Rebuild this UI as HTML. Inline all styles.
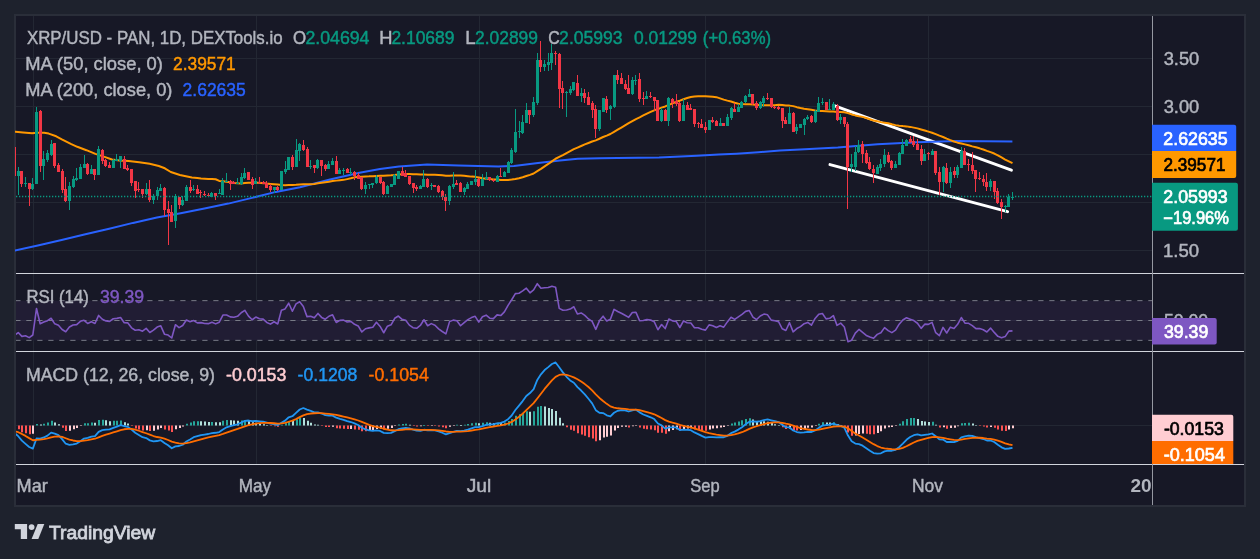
<!DOCTYPE html>
<html><head><meta charset="utf-8"><title>XRP/USD chart</title>
<style>
html,body{margin:0;padding:0;background:#1e222d;width:1260px;height:559px;overflow:hidden}
svg{position:absolute;left:0;top:0;display:block}
text{font-family:"Liberation Sans",sans-serif;font-size:16px}
.lg{fill:#b2b5be}
.ax{fill:#b2b5be}
.lb{font-weight:bold}
</style></head><body>
<svg width="1260" height="559" viewBox="0 0 1260 559">
<defs>
<clipPath id="cmain"><rect x="15" y="16" width="1137" height="257"/></clipPath>
<clipPath id="crsi"><rect x="16" y="274" width="1136" height="77"/></clipPath>
<clipPath id="cmacd"><rect x="16" y="352" width="1136" height="112"/></clipPath>
</defs>
<rect x="0" y="0" width="1260" height="559" fill="#1e222d"/>
<rect x="14" y="14" width="1232" height="493" fill="#2a2e39"/>
<rect x="16" y="16" width="1228" height="489" fill="#171826"/>
<!-- grid -->
<g stroke="#232733" stroke-width="1" fill="none">
<path d="M33.5 16V464M256.5 16V464M479.5 16V464M705.5 16V464M928.5 16V464"/>
<path d="M16 58.5H1152M16 106.5H1152M16 154.5H1152M16 202.5H1152M16 250.5H1152M16 425.5H1152"/>
</g>
<g clip-path="url(#cmain)">
<path d="M833.4 105.4L1011.4 170.2M830 164.6L1007.6 211.6" stroke="#ffffff" stroke-width="3" stroke-linecap="round" fill="none"/>
<path d="M14 250.8 L37.8 245.5 L61.6 240 L85.4 234.3 L109.2 228.8 L133 222.9 L156.9 217.6 L180.7 213.3 L204.5 208.6 L228.3 203.6 L252 197.9 L275.9 191.9 L300 187.2 L330 179.5 L359.5 172.8 L380 169 L399 166.4 L427 164.6 L458.7 165.6 L498.4 166.4 L514 166 L538 162.9 L560 160.6 L577.8 158.8 L599.7 158.2 L617.5 157.9 L659 157.4 L696.8 155.7 L718.7 154.6 L736.5 153.7 L758.4 152.2 L780 150.6 L800 149.4 L837.8 147.5 L877.5 144.3 L917 142.3 L956.8 141.1 L1012.4 141.6" stroke="#2962ff" stroke-width="2" fill="none" stroke-linejoin="round"/>
<path d="M14 131.7 L15.5 131.8 L23 132.4 L32.1 133.3 L36.6 132.8 L44.2 132.8 L48.7 133.6 L56.2 136.3 L62.3 139.6 L71.3 144.1 L77.3 146.8 L86.4 150.2 L95.4 153.9 L104.5 156.9 L112 159.5 L119.5 160.4 L128.6 161 L139.2 162.2 L149.7 163.7 L158.8 166 L164.8 168.3 L170.8 172 L179.9 175 L191.9 177.6 L197.34 178.04 L200.99 178.48 L204.65 178.71 L208.3 178.96 L211.96 179.04 L215.62 179.28 L219.27 180.9 L222.93 181.19 L226.58 181.64 L230.24 182.24 L233.89 183.04 L237.55 183.37 L241.2 183.47 L244.86 183.12 L248.51 182.7 L252.17 182.67 L255.82 182.71 L259.48 182.81 L263.14 183.13 L266.79 183.61 L270.45 183.92 L274.1 184.28 L277.76 184.58 L281.41 185.01 L285.07 185.17 L288.72 184.99 L292.38 184.97 L296.03 184.78 L299.69 184.49 L303.34 184.37 L307 184.31 L310.66 184.22 L314.31 183.91 L317.97 183.29 L321.62 182.82 L325.28 182.33 L328.93 181.84 L332.59 181.06 L336.24 180.62 L339.9 180.22 L343.55 179.86 L347.21 179.12 L350.86 178.3 L354.52 177.37 L358.18 177.02 L361.83 176.71 L365.49 176.41 L369.14 176.35 L372.8 176.19 L376.45 175.97 L380.11 175.76 L383.76 175.77 L387.42 175.59 L391.07 175.36 L394.73 174.99 L398.38 174.49 L402.04 174.14 L405.7 174.06 L409.35 174.12 L413.01 174.22 L416.66 174.32 L420.32 174.38 L423.97 174.42 L427.63 174.71 L431.28 174.8 L434.94 174.84 L438.59 175.07 L442.25 175.34 L445.91 175.68 L449.56 175.65 L453.22 175.53 L456.87 175.48 L460.53 175.52 L464.18 175.85 L467.84 176.15 L471.49 176.62 L475.15 176.87 L478.8 177.6 L482.46 178.3 L486.11 178.83 L489.77 179.1 L493.43 179.41 L497.08 179.57 L500.74 179.91 L504.39 180.03 L508.05 179.88 L511.7 179.61 L515.36 179.03 L519.01 178.17 L522.67 177.21 L526.32 176.02 L529.98 174.87 L533.63 173.47 L537.29 171.15 L540.95 168.91 L544.6 166.41 L548.26 163.95 L551.91 161.33 L555.57 158.75 L559.22 156.97 L562.88 155.16 L566.53 153.11 L570.19 151.17 L573.84 149.14 L577.5 147.56 L581.16 146 L584.81 144.44 L588.47 143 L592.12 141.51 L595.78 140.33 L599.43 138.76 L603.09 137.01 L606.74 135.64 L610.4 134.01 L614.05 131.82 L617.71 129.68 L621.36 127.52 L625.02 125.37 L628.68 123.23 L632.33 121.12 L635.99 119.04 L639.64 117.33 L643.3 115.47 L646.95 113.64 L650.61 111.91 L654.26 110.31 L657.92 109.14 L661.57 107.61 L665.23 106.45 L668.88 104.87 L672.54 103.32 L676.2 101.79 L679.85 100.68 L683.51 99.24 L687.16 97.99 L690.82 96.96 L694.47 96.43 L698.13 96.26 L701.78 96.19 L705.44 96.34 L709.09 96.54 L712.75 96.68 L716.4 97.15 L720.06 98.41 L723.72 99.59 L727.37 100.65 L731.03 101.56 L734.68 102.74 L738.34 103.8 L741.99 104.06 L745.65 104.13 L749.3 104.17 L752.96 104.47 L756.61 104.98 L760.27 105.1 L763.93 105.2 L767.58 105.22 L771.24 105.26 L774.89 105.23 L778.55 104.83 L782.2 105.03 L785.86 105.55 L789.51 105.62 L793.17 106.13 L796.82 107.16 L800.48 108.03 L804.13 108.72 L807.79 109.28 L811.45 109.84 L815.1 110.46 L818.76 110.93 L822.41 110.97 L826.07 111.19 L829.72 111.45 L833.38 111.59 L837.03 111.97 L840.69 111.9 L844.34 112.18 L848 113.1 L851.65 114.43 L855.31 115.4 L858.97 116.21 L862.62 116.86 L866.28 118.03 L869.93 119.21 L873.59 120.47 L877.24 121.33 L880.9 122.13 L884.55 122.68 L888.21 123.33 L891.86 124.29 L895.52 125.13 L899.17 125.67 L902.83 126.1 L906.49 126.38 L910.14 126.89 L913.8 127.63 L917.45 128.39 L921.11 129.47 L924.76 130.5 L928.42 131.67 L932.07 132.8 L935.73 134.19 L939.38 135.67 L943.04 136.99 L946.7 138.69 L950.35 140.14 L954.01 141.5 L957.66 142.67 L961.32 143.51 L964.97 144.38 L968.63 145.2 L972.28 146.35 L975.94 147.29 L979.59 148.33 L983.25 149.49 L986.9 150.86 L990.56 152.14 L994.22 153.53 L997.87 155.37 L1001.53 157.46 L1005.18 159.54 L1008.84 161.29 L1012.49 163.05" stroke="#ff9800" stroke-width="2" fill="none" stroke-linejoin="round"/>
<path d="M18.5 167V195M25.5 177V187M32.5 178V190M36.5 107V184M43.5 151V180M47.5 150V162M51.5 140V156M69.5 182V210M73.5 176V188M76.5 168V181M80.5 164V179M84.5 155V168M91.5 165V174M98.5 146V175M113.5 159V168M116.5 154V161M120.5 156V168M146.5 183V195M153.5 194V204M157.5 187V200M160.5 184V191M175.5 194V228M182.5 196V206M186.5 185V201M193.5 185V191M211.5 192V197M219.5 189V194M222.5 178V195M226.5 173V182M237.5 178V184M241.5 173V185M244.5 168V179M255.5 178V184M274.5 187V193M281.5 171V190M285.5 161V174M288.5 157V170M296.5 139V167M299.5 143V161M310.5 160V169M317.5 159V169M328.5 161V169M332.5 158V165M339.5 168V174M343.5 168V175M350.5 168V175M365.5 182V194M369.5 184V189M372.5 183V188M376.5 175V184M387.5 185V194M391.5 184V187M394.5 174V185M398.5 171V179M420.5 185V189M423.5 170V187M431.5 183V190M449.5 185V205M453.5 172V189M464.5 187V195M467.5 182V189M471.5 181V185M475.5 170V185M482.5 174V186M486.5 172V180M497.5 175V182M504.5 171V177M508.5 161V173M511.5 148V164M515.5 109V153M519.5 121V138M522.5 115V134M526.5 103V123M533.5 97V117M537.5 53V105M544.5 60V71M548.5 53V71M551.5 44V70M566.5 91V117M570.5 86V95M573.5 82V91M581.5 88V102M599.5 110V131M603.5 98V112M610.5 105V120M614.5 75V108M632.5 77V95M635.5 75V85M646.5 91V99M661.5 108V122M668.5 97V126M683.5 99V121M709.5 120V130M720.5 118V126M727.5 114V126M731.5 107V120M738.5 104V112M741.5 101V108M745.5 95V103M749.5 89V97M760.5 101V109M763.5 96V107M789.5 107V124M796.5 124V134M800.5 124V128M804.5 118V135M807.5 115V120M815.5 110V123M818.5 97V112M822.5 98V105M829.5 99V110M833.5 102V110M840.5 114V124M851.5 154V172M855.5 146V171M858.5 140V153M877.5 165V174M880.5 159V171M884.5 149V167M895.5 161V168M899.5 152V165M902.5 139V154M906.5 139V146M924.5 149V161M932.5 149V155M943.5 166V192M950.5 167V188M957.5 165V178M961.5 147V168M990.5 179V191M1005.5 205V212M1008.5 194V207M1012.5 192V200" stroke="#089981" stroke-width="1" fill="none"/><path d="M14.5 145V181M21.5 171V187M29.5 183V206M40.5 110V172M54.5 143V168M58.5 163V172M62.5 169V193M65.5 177V202M87.5 163V175M94.5 169V180M102.5 149V164M105.5 159V167M109.5 162V168M124.5 156V169M127.5 165V171M131.5 169V186M135.5 181V198M138.5 182V192M142.5 189V198M149.5 180V202M164.5 187V216M168.5 201V245M171.5 205V222M179.5 197V209M190.5 180V193M197.5 185V194M200.5 190V198M204.5 191V196M208.5 193V196M215.5 193V200M230.5 180V190M233.5 181V184M248.5 172V180M252.5 177V189M259.5 177V184M263.5 181V184M266.5 181V188M270.5 184V192M277.5 186V191M292.5 155V170M303.5 140V151M307.5 147V167M314.5 165V173M321.5 160V176M325.5 164V171M336.5 156V174M347.5 168V173M354.5 171V180M358.5 173V179M361.5 177V190M380.5 177V184M383.5 181V195M402.5 167V176M405.5 170V177M409.5 176V185M413.5 183V193M416.5 185V191M427.5 178V188M434.5 185V187M438.5 185V193M442.5 190V200M445.5 194V211M456.5 180V185M460.5 182V192M478.5 178V187M489.5 177V181M493.5 179V182M500.5 168V177M529.5 110V124M540.5 41V72M555.5 51V65M559.5 53V108M562.5 81V109M577.5 75V96M584.5 89V103M588.5 92V105M592.5 101V118M595.5 105V138M606.5 96V113M617.5 70V84M621.5 73V84M625.5 80V90M628.5 75V94M639.5 73V102M643.5 92V105M650.5 92V98M654.5 97V111M657.5 100V121M665.5 109V121M672.5 98V108M676.5 94V106M679.5 102V122M687.5 102V110M690.5 104V110M694.5 109V127M698.5 122V128M701.5 119V128M705.5 122V133M712.5 117V123M716.5 120V126M723.5 123V126M734.5 103V112M752.5 94V105M756.5 101V110M767.5 93V100M771.5 98V108M774.5 106V109M778.5 106V110M782.5 108V128M785.5 117V124M793.5 112V132M811.5 115V123M826.5 102V110M837.5 104V121M844.5 117V127M847.5 122V209M862.5 141V163M866.5 150V164M869.5 157V170M873.5 165V183M888.5 152V163M891.5 160V170M910.5 136V143M913.5 136V147M917.5 139V150M921.5 145V165M928.5 152V160M935.5 151V175M939.5 167V195M946.5 163V184M954.5 167V178M964.5 148V165M968.5 159V171M972.5 152V174M975.5 170V192M979.5 172V180M983.5 175V186M986.5 173V191M994.5 181V199M997.5 188V204M1001.5 199V219" stroke="#f23645" stroke-width="1" fill="none"/><path d="M17 171h3v5h-3zM24 183h3v1h-3zM31 184h3v5h-3zM35 112h3v72h-3zM42 159h3v7h-3zM46 153h3v7h-3zM50 144h3v11h-3zM68 186h3v15h-3zM72 179h3v8h-3zM75 178h3v2h-3zM79 167h3v12h-3zM83 164h3v4h-3zM90 169h3v5h-3zM97 149h3v26h-3zM112 160h3v8h-3zM115 159h3v2h-3zM119 156h3v5h-3zM145 189h3v5h-3zM152 196h3v4h-3zM156 190h3v6h-3zM159 188h3v3h-3zM174 196h3v25h-3zM181 200h3v5h-3zM185 187h3v14h-3zM192 189h3v1h-3zM210 193h3v4h-3zM218 193h3v1h-3zM221 181h3v14h-3zM225 181h3v1h-3zM236 183h3v1h-3zM240 177h3v7h-3zM243 173h3v5h-3zM254 181h3v3h-3zM273 187h3v3h-3zM280 171h3v19h-3zM284 169h3v3h-3zM287 157h3v13h-3zM295 150h3v17h-3zM298 144h3v7h-3zM309 166h3v1h-3zM316 160h3v8h-3zM327 164h3v5h-3zM331 161h3v4h-3zM338 170h3v4h-3zM342 170h3v1h-3zM349 172h3v1h-3zM364 185h3v4h-3zM368 184h3v1h-3zM371 183h3v2h-3zM375 177h3v6h-3zM386 186h3v8h-3zM390 184h3v3h-3zM393 175h3v10h-3zM397 171h3v8h-3zM419 186h3v3h-3zM422 179h3v8h-3zM430 185h3v1h-3zM448 186h3v15h-3zM452 184h3v3h-3zM463 188h3v4h-3zM466 184h3v5h-3zM470 181h3v4h-3zM474 179h3v3h-3zM481 179h3v7h-3zM485 177h3v2h-3zM496 176h3v6h-3zM503 172h3v5h-3zM507 162h3v11h-3zM510 150h3v13h-3zM514 132h3v20h-3zM518 131h3v1h-3zM521 122h3v11h-3zM525 110h3v13h-3zM532 102h3v13h-3zM536 60h3v43h-3zM543 64h3v3h-3zM547 62h3v3h-3zM550 53h3v10h-3zM565 92h3v1h-3zM569 89h3v4h-3zM572 82h3v8h-3zM580 93h3v3h-3zM598 110h3v19h-3zM602 98h3v14h-3zM609 106h3v3h-3zM613 75h3v32h-3zM631 80h3v14h-3zM634 80h3v1h-3zM645 96h3v3h-3zM660 110h3v11h-3zM667 98h3v23h-3zM682 105h3v16h-3zM708 120h3v10h-3zM719 123h3v3h-3zM726 117h3v9h-3zM730 108h3v10h-3zM737 107h3v5h-3zM740 102h3v6h-3zM744 96h3v6h-3zM748 94h3v3h-3zM759 102h3v6h-3zM762 98h3v5h-3zM788 113h3v11h-3zM795 127h3v4h-3zM799 124h3v4h-3zM803 119h3v6h-3zM806 117h3v2h-3zM814 111h3v11h-3zM817 103h3v9h-3zM821 102h3v1h-3zM828 109h3v1h-3zM832 104h3v6h-3zM839 117h3v3h-3zM850 164h3v3h-3zM854 152h3v15h-3zM857 145h3v7h-3zM876 167h3v7h-3zM879 164h3v4h-3zM883 155h3v9h-3zM894 164h3v4h-3zM898 153h3v12h-3zM901 145h3v9h-3zM905 140h3v6h-3zM923 154h3v7h-3zM931 151h3v4h-3zM942 167h3v15h-3zM949 172h3v11h-3zM956 167h3v8h-3zM960 151h3v17h-3zM989 181h3v6h-3zM1004 206h3v1h-3zM1007 197h3v10h-3zM1011 197h3v1h-3z" fill="#089981"/><path d="M13 147h3v29h-3zM20 171h3v13h-3zM28 183h3v6h-3zM39 111h3v55h-3zM53 143h3v23h-3zM57 165h3v7h-3zM61 171h3v19h-3zM64 189h3v12h-3zM86 164h3v10h-3zM93 169h3v6h-3zM101 150h3v11h-3zM104 160h3v6h-3zM108 165h3v3h-3zM123 159h3v10h-3zM126 168h3v2h-3zM130 169h3v14h-3zM134 181h3v10h-3zM137 189h3v1h-3zM141 189h3v5h-3zM148 189h3v11h-3zM163 188h3v22h-3zM167 209h3v4h-3zM170 212h3v10h-3zM178 197h3v8h-3zM189 187h3v4h-3zM196 189h3v5h-3zM199 192h3v1h-3zM203 194h3v1h-3zM207 195h3v1h-3zM214 193h3v3h-3zM229 181h3v3h-3zM232 182h3v2h-3zM247 172h3v8h-3zM251 179h3v6h-3zM258 182h3v1h-3zM262 182h3v2h-3zM265 183h3v5h-3zM269 186h3v4h-3zM276 187h3v3h-3zM291 157h3v10h-3zM302 145h3v5h-3zM306 149h3v18h-3zM313 165h3v3h-3zM320 160h3v6h-3zM324 165h3v4h-3zM335 161h3v13h-3zM346 169h3v4h-3zM353 172h3v4h-3zM357 175h3v4h-3zM360 177h3v12h-3zM379 177h3v6h-3zM382 182h3v12h-3zM401 171h3v5h-3zM404 173h3v4h-3zM408 176h3v8h-3zM412 183h3v5h-3zM415 187h3v2h-3zM426 179h3v8h-3zM433 185h3v2h-3zM437 186h3v6h-3zM441 191h3v6h-3zM444 197h3v4h-3zM455 183h3v2h-3zM459 183h3v9h-3zM477 179h3v7h-3zM488 177h3v3h-3zM492 180h3v1h-3zM499 176h3v1h-3zM528 110h3v5h-3zM539 60h3v7h-3zM554 53h3v1h-3zM558 54h3v35h-3zM561 88h3v5h-3zM576 83h3v13h-3zM583 93h3v5h-3zM587 97h3v8h-3zM591 103h3v7h-3zM594 109h3v20h-3zM605 99h3v11h-3zM616 75h3v5h-3zM620 78h3v6h-3zM624 84h3v5h-3zM627 88h3v6h-3zM638 79h3v20h-3zM642 98h3v1h-3zM649 96h3v1h-3zM653 97h3v4h-3zM656 100h3v21h-3zM664 110h3v11h-3zM671 99h3v4h-3zM675 101h3v3h-3zM678 103h3v18h-3zM686 105h3v5h-3zM689 108h3v2h-3zM693 109h3v15h-3zM697 123h3v1h-3zM700 124h3v4h-3zM704 127h3v3h-3zM711 120h3v2h-3zM715 121h3v5h-3zM722 123h3v3h-3zM733 109h3v3h-3zM751 94h3v10h-3zM755 103h3v5h-3zM766 98h3v1h-3zM770 98h3v9h-3zM773 107h3v1h-3zM777 107h3v2h-3zM781 108h3v13h-3zM784 120h3v4h-3zM792 113h3v19h-3zM810 116h3v6h-3zM825 102h3v8h-3zM836 106h3v14h-3zM843 117h3v7h-3zM846 124h3v43h-3zM861 144h3v10h-3zM865 153h3v10h-3zM868 162h3v7h-3zM872 169h3v4h-3zM887 155h3v7h-3zM890 161h3v7h-3zM909 139h3v3h-3zM912 141h3v4h-3zM916 144h3v6h-3zM920 149h3v12h-3zM927 153h3v1h-3zM934 151h3v22h-3zM938 172h3v10h-3zM945 168h3v15h-3zM953 171h3v4h-3zM963 151h3v14h-3zM967 164h3v1h-3zM971 165h3v6h-3zM974 170h3v9h-3zM978 178h3v1h-3zM982 179h3v3h-3zM985 182h3v5h-3zM993 181h3v11h-3zM996 191h3v12h-3zM1000 202h3v5h-3z" fill="#f23645"/>
<path d="M16 196.5H1152" stroke="#089981" stroke-width="1.3" stroke-dasharray="1.3 1.7" fill="none"/>
</g>
<g clip-path="url(#crsi)"><rect x="16" y="300.65" width="1136" height="39.7" fill="#211d34"/><path d="M16 320.5H1152" stroke="#2b2740" stroke-width="1"/><path d="M15.3 300.65H1152" stroke="#787b86" stroke-width="1" stroke-dasharray="5.2 5.8" fill="none"/><path d="M15.3 320.5H1152" stroke="#787b86" stroke-width="1" stroke-dasharray="5.2 5.8" fill="none"/><path d="M15.3 340.35H1152" stroke="#787b86" stroke-width="1" stroke-dasharray="5.2 5.8" fill="none"/><path d="M14.57 335.34 L18.22 332.52 L21.88 336.38 L25.53 335.82 L29.19 337.62 L32.84 334.98 L36.5 308.52 L40.16 323.8 L43.81 321.96 L47.47 320.63 L51.12 318.24 L54.78 323.83 L58.43 325.31 L62.09 329.46 L65.74 331.71 L69.4 327.02 L73.05 324.94 L76.71 324.67 L80.37 321.29 L84.02 320.3 L87.68 323.41 L91.33 321.79 L94.99 323.51 L98.64 315.44 L102.3 319.25 L105.95 320.91 L109.61 321.45 L113.26 318.74 L116.92 318.38 L120.57 317.47 L124.23 322.68 L127.89 322.92 L131.54 327.83 L135.2 330.23 L138.85 329.72 L142.51 331.17 L146.16 328.38 L149.82 332.51 L153.47 330.12 L157.13 327.04 L160.78 325.81 L164.44 334.19 L168.09 335.07 L171.75 338 L175.41 324.72 L179.06 327.68 L182.72 325.54 L186.37 320.02 L190.03 321.77 L193.68 320.6 L197.34 322.84 L200.99 322.64 L204.65 323.47 L208.3 323.64 L211.96 322.19 L215.62 323.86 L219.27 322.16 L222.93 315.06 L226.58 315.06 L230.24 316.89 L233.89 317.27 L237.55 316.34 L241.2 312.73 L244.86 310.31 L248.51 316.16 L252.17 319.74 L255.82 317.05 L259.48 318.72 L263.14 319.15 L266.79 322.44 L270.45 324.11 L274.1 321.71 L277.76 323.95 L281.41 310.23 L285.07 308.92 L288.72 303.21 L292.38 311.24 L296.03 303.83 L299.69 301.69 L303.34 306.41 L307 316.64 L310.66 316.2 L314.31 317.81 L317.97 313.44 L321.62 317.41 L325.28 319.22 L328.93 316.25 L332.59 314.8 L336.24 322.46 L339.9 320.35 L343.55 320.14 L347.21 322.06 L350.86 321.45 L354.52 324.29 L358.18 325.92 L361.83 331.97 L365.49 328.74 L369.14 327.85 L372.8 327.23 L376.45 322.26 L380.11 326.41 L383.76 332.76 L387.42 326.14 L391.07 324.78 L394.73 318.3 L398.38 316.04 L402.04 319.29 L405.7 320.2 L409.35 325.13 L413.01 327.72 L416.66 328.28 L420.32 325.47 L423.97 319.73 L427.63 325.75 L431.28 323.63 L434.94 325.25 L438.59 328.83 L442.25 331.48 L445.91 333.88 L449.56 321.62 L453.22 320.13 L456.87 320.78 L460.53 325.76 L464.18 322.53 L467.84 319.58 L471.49 317.62 L475.15 316.31 L478.8 322.12 L482.46 316.78 L486.11 315.17 L489.77 318.19 L493.43 318.65 L497.08 314.89 L500.74 315.57 L504.39 311.88 L508.05 305.39 L511.7 299.73 L515.36 293.61 L519.01 293.2 L522.67 290.88 L526.32 288.14 L529.98 292.83 L533.63 289.83 L537.29 283.67 L540.95 288.18 L544.6 287.79 L548.26 287.53 L551.91 286.18 L555.57 287.15 L559.22 308.41 L562.88 310.29 L566.53 310 L570.19 309.08 L573.84 306.79 L577.5 314.04 L581.16 312.95 L584.81 315.37 L588.47 318.96 L592.12 321.43 L595.78 329.33 L599.43 320.85 L603.09 316.21 L606.74 320.91 L610.4 319.3 L614.05 309.35 L617.71 311.46 L621.36 313.29 L625.02 315.28 L628.68 317.34 L632.33 312.52 L635.99 312.34 L639.64 320.79 L643.3 320.57 L646.95 319.53 L650.61 320.1 L654.26 321.76 L657.92 329.73 L661.57 324.54 L665.23 328.55 L668.88 318.97 L672.54 320.9 L676.2 321.46 L679.85 327.5 L683.51 320.95 L687.16 322.79 L690.82 323.06 L694.47 327.8 L698.13 327.8 L701.78 329.31 L705.44 330.11 L709.09 324.89 L712.75 325.66 L716.4 327.45 L720.06 325.79 L723.72 327.15 L727.37 321.89 L731.03 317.23 L734.68 319.42 L738.34 316.81 L741.99 314.38 L745.65 311.38 L749.3 310.54 L752.96 317.06 L756.61 319.55 L760.27 315.98 L763.93 314.09 L767.58 314.84 L771.24 320.13 L774.89 320.82 L778.55 321.66 L782.2 328.75 L785.86 330.47 L789.51 322.7 L793.17 331.84 L796.82 328.56 L800.48 326.59 L804.13 323.74 L807.79 322.38 L811.45 325.19 L815.1 318.49 L818.76 314.18 L822.41 313.44 L826.07 318.85 L829.72 318.29 L833.38 315.63 L837.03 325.37 L840.69 323.13 L844.34 326.95 L848 341.8 L851.65 340.2 L855.31 333.12 L858.97 329.44 L862.62 332.44 L866.28 335.46 L869.93 337.02 L873.59 338.31 L877.24 334.38 L880.9 332.7 L884.55 327.65 L888.21 330.63 L891.86 332.62 L895.52 330.16 L899.17 324.2 L902.83 320.03 L906.49 317.76 L910.14 319.14 L913.8 320.57 L917.45 323.23 L921.11 328.38 L924.76 324.17 L928.42 324.36 L932.07 322.4 L935.73 332.73 L939.38 335.72 L943.04 327.43 L946.7 332.99 L950.35 327.18 L954.01 328.49 L957.66 324.28 L961.32 317.54 L964.97 323.15 L968.63 323.32 L972.28 325.59 L975.94 328.58 L979.59 328.58 L983.25 329.72 L986.9 331.98 L990.56 328.1 L994.22 332.4 L997.87 336.36 L1001.53 337.74 L1005.18 336.58 L1008.84 331.17 L1012.49 330.85" stroke="#7e57c2" stroke-width="1.6" fill="none" stroke-linejoin="round"/></g>
<g clip-path="url(#cmacd)"><path d="M36 423.98h2v1.42h-2zM43 423.67h2v1.73h-2zM47 422.55h2v2.85h-2zM51 420.74h2v4.66h-2zM84 423.34h2v2.06h-2zM87 423.27h2v2.13h-2zM91 422.6h2v2.8h-2zM98 419.91h2v5.49h-2zM102 419.66h2v5.74h-2zM113 420.84h2v4.56h-2zM116 420.7h2v4.7h-2zM120 420.49h2v4.91h-2zM186 423.71h2v1.69h-2zM190 422.4h2v3h-2zM193 421.24h2v4.16h-2zM197 421.24h2v4.16h-2zM211 421.89h2v3.51h-2zM222 420.87h2v4.53h-2zM226 420.11h2v5.29h-2zM241 420.4h2v5h-2zM244 419.92h2v5.48h-2zM281 424.71h2v0.69h-2zM285 423.17h2v2.23h-2zM288 420.92h2v4.48h-2zM296 419.21h2v6.19h-2zM299 417.75h2v7.65h-2zM398 424.42h2v0.98h-2zM402 423.91h2v1.49h-2zM405 423.79h2v1.61h-2zM423 425.37h2v0.6h-2zM456 424.65h2v0.75h-2zM464 424.73h2v0.67h-2zM467 424.03h2v1.37h-2zM471 423.28h2v2.12h-2zM475 422.65h2v2.75h-2zM482 422.82h2v2.58h-2zM486 422.36h2v3.04h-2zM497 422.79h2v2.61h-2zM504 422.43h2v2.97h-2zM508 421.07h2v4.33h-2zM511 419.01h2v6.39h-2zM515 415.87h2v9.53h-2zM519 414.28h2v11.12h-2zM522 412.89h2v12.51h-2zM526 411.27h2v14.13h-2zM533 411.36h2v14.04h-2zM537 406.84h2v18.56h-2zM540 406.04h2v19.36h-2zM731 423.45h2v1.95h-2zM734 422.6h2v2.8h-2zM738 421.52h2v3.88h-2zM741 420.37h2v5.03h-2zM745 419.08h2v6.32h-2zM749 418.33h2v7.07h-2zM818 423.63h2v1.77h-2zM822 422.19h2v3.21h-2zM833 422.3h2v3.1h-2zM899 423.72h2v1.68h-2zM902 421.16h2v4.24h-2zM906 418.98h2v6.42h-2zM910 418.08h2v7.32h-2zM913 418.06h2v7.34h-2zM932 421.84h2v3.56h-2zM961 423.16h2v2.24h-2zM964 422.94h2v2.46h-2zM968 422.86h2v2.54h-2z" fill="#26a69a"/><path d="M40 424.38h2v1.02h-2zM54 422.41h2v2.99h-2zM58 424.27h2v1.13h-2zM94 422.86h2v2.54h-2zM105 420.34h2v5.06h-2zM109 421.15h2v4.25h-2zM124 422.21h2v3.19h-2zM127 423.49h2v1.91h-2zM200 421.26h2v4.14h-2zM204 421.59h2v3.81h-2zM208 421.92h2v3.48h-2zM215 422.33h2v3.07h-2zM219 422.34h2v3.06h-2zM230 420.18h2v5.22h-2zM233 420.5h2v4.9h-2zM237 420.75h2v4.65h-2zM248 420.78h2v4.62h-2zM252 422.16h2v3.24h-2zM255 422.72h2v2.68h-2zM259 423.49h2v1.91h-2zM263 424.16h2v1.24h-2zM266 425.18h2v0.6h-2zM292 420.98h2v4.42h-2zM303 418.09h2v7.31h-2zM307 420.76h2v4.64h-2zM310 422.68h2v2.72h-2zM314 424.46h2v0.94h-2zM317 424.67h2v0.73h-2zM409 424.64h2v0.76h-2zM460 425.04h2v0.6h-2zM478 423.25h2v2.15h-2zM489 422.66h2v2.74h-2zM493 423.04h2v2.36h-2zM500 422.85h2v2.55h-2zM529 411.76h2v13.64h-2zM544 406.51h2v18.89h-2zM548 407.91h2v17.49h-2zM551 408.93h2v16.47h-2zM555 410.99h2v14.41h-2zM559 417.75h2v7.65h-2zM562 423.34h2v2.06h-2zM752 419.42h2v5.98h-2zM756 420.91h2v4.49h-2zM760 421.27h2v4.13h-2zM763 421.27h2v4.13h-2zM767 421.63h2v3.77h-2zM771 423.05h2v2.35h-2zM774 424.22h2v1.18h-2zM778 425.2h2v0.6h-2zM826 422.44h2v2.96h-2zM829 422.61h2v2.79h-2zM837 424.24h2v1.16h-2zM840 425.07h2v0.6h-2zM917 418.9h2v6.5h-2zM921 420.95h2v4.45h-2zM924 421.45h2v3.95h-2zM928 421.9h2v3.5h-2zM935 424.68h2v0.72h-2zM972 423.54h2v1.86h-2zM975 424.92h2v0.6h-2z" fill="#b2dfdb"/><path d="M14 425.4h2v1.62h-2zM18 425.4h2v3.96h-2zM21 425.4h2v6.74h-2zM25 425.4h2v7.93h-2zM29 425.4h2v8.9h-2zM62 425.4h2v2.26h-2zM65 425.4h2v5.48h-2zM131 425.4h2v0.62h-2zM135 425.4h2v3.03h-2zM138 425.4h2v4.21h-2zM142 425.4h2v5.19h-2zM149 425.4h2v5.69h-2zM164 425.4h2v4.21h-2zM168 425.4h2v5.22h-2zM171 425.4h2v6.63h-2zM270 425.4h2v0.72h-2zM274 425.4h2v0.96h-2zM277 425.4h2v1.41h-2zM321 425.4h2v0.6h-2zM325 425.4h2v1.5h-2zM328 425.4h2v1.59h-2zM336 425.4h2v2.75h-2zM339 425.4h2v3.14h-2zM343 425.4h2v3.27h-2zM347 425.4h2v3.64h-2zM354 425.4h2v4.04h-2zM358 425.4h2v4.44h-2zM361 425.4h2v5.79h-2zM365 425.4h2v5.88h-2zM383 425.4h2v4.14h-2zM413 425.4h2v0.6h-2zM416 425.4h2v1.01h-2zM427 425.4h2v0.6h-2zM434 425.4h2v0.6h-2zM438 425.4h2v1.06h-2zM442 425.4h2v1.92h-2zM445 425.4h2v2.83h-2zM566 425.4h2v1.9h-2zM570 425.4h2v4.41h-2zM573 425.4h2v5.37h-2zM577 425.4h2v7.8h-2zM581 425.4h2v8.99h-2zM584 425.4h2v10.23h-2zM588 425.4h2v11.74h-2zM592 425.4h2v13.05h-2zM595 425.4h2v15.88h-2zM628 425.4h2v2.04h-2zM639 425.4h2v2.14h-2zM643 425.4h2v3.42h-2zM646 425.4h2v3.86h-2zM650 425.4h2v4.22h-2zM654 425.4h2v4.77h-2zM657 425.4h2v7.4h-2zM661 425.4h2v7.42h-2zM665 425.4h2v8.46h-2zM679 425.4h2v5.11h-2zM694 425.4h2v4.04h-2zM698 425.4h2v4.55h-2zM701 425.4h2v5.11h-2zM705 425.4h2v5.41h-2zM782 425.4h2v1.89h-2zM785 425.4h2v3.52h-2zM793 425.4h2v4.86h-2zM796 425.4h2v5.11h-2zM844 425.4h2v1.08h-2zM847 425.4h2v7.21h-2zM851 425.4h2v10.31h-2zM866 425.4h2v8.47h-2zM869 425.4h2v8.82h-2zM873 425.4h2v8.97h-2zM939 425.4h2v2.03h-2zM946 425.4h2v3.32h-2zM979 425.4h2v0.6h-2zM983 425.4h2v1.01h-2zM986 425.4h2v2h-2zM994 425.4h2v2.47h-2zM997 425.4h2v4.17h-2zM1001 425.4h2v5.41h-2zM1005 425.4h2v5.54h-2z" fill="#ff5252"/><path d="M32 425.4h2v8.39h-2zM69 425.4h2v5.24h-2zM73 425.4h2v3.82h-2zM76 425.4h2v2.49h-2zM80 425.4h2v0.6h-2zM146 425.4h2v4.84h-2zM153 425.4h2v5.31h-2zM157 425.4h2v4h-2zM160 425.4h2v2.59h-2zM175 425.4h2v3.79h-2zM179 425.4h2v2.71h-2zM182 425.4h2v1.14h-2zM332 425.4h2v1.33h-2zM350 425.4h2v3.64h-2zM369 425.4h2v5.51h-2zM372 425.4h2v4.91h-2zM376 425.4h2v3.54h-2zM380 425.4h2v3.21h-2zM387 425.4h2v3.46h-2zM391 425.4h2v2.59h-2zM394 425.4h2v0.72h-2zM420 425.4h2v0.97h-2zM431 425.4h2v0.6h-2zM449 425.4h2v1.35h-2zM453 425.4h2v0.6h-2zM599 425.4h2v14.8h-2zM603 425.4h2v12.1h-2zM606 425.4h2v11.43h-2zM610 425.4h2v10.1h-2zM614 425.4h2v5.1h-2zM617 425.4h2v2.49h-2zM621 425.4h2v1.4h-2zM625 425.4h2v1.38h-2zM632 425.4h2v0.79h-2zM635 425.4h2v0.6h-2zM668 425.4h2v5.88h-2zM672 425.4h2v4.61h-2zM676 425.4h2v3.78h-2zM683 425.4h2v3.68h-2zM687 425.4h2v3.22h-2zM690 425.4h2v2.83h-2zM709 425.4h2v4.03h-2zM712 425.4h2v3.11h-2zM716 425.4h2v2.8h-2zM720 425.4h2v2.02h-2zM723 425.4h2v1.69h-2zM727 425.4h2v0.6h-2zM789 425.4h2v3.05h-2zM800 425.4h2v4.62h-2zM804 425.4h2v3.49h-2zM807 425.4h2v2.3h-2zM811 425.4h2v1.99h-2zM815 425.4h2v0.6h-2zM855 425.4h2v10.12h-2zM858 425.4h2v8.51h-2zM862 425.4h2v8.07h-2zM877 425.4h2v7.61h-2zM880 425.4h2v5.81h-2zM884 425.4h2v3.08h-2zM888 425.4h2v1.94h-2zM891 425.4h2v1.58h-2zM895 425.4h2v0.6h-2zM943 425.4h2v1.77h-2zM950 425.4h2v2.59h-2zM954 425.4h2v2.3h-2zM957 425.4h2v0.81h-2zM990 425.4h2v1.6h-2zM1008 425.4h2v4.14h-2zM1012 425.4h2v2.81h-2z" fill="#ffcdd2"/><path d="M14.57 432.87 L18.22 436.2 L21.88 440.67 L25.53 443.84 L29.19 447.04 L32.84 448.62 L36.5 438.46 L40.16 438.61 L43.81 437.46 L47.47 435.63 L51.12 432.65 L54.78 433.57 L58.43 435.16 L62.09 439.1 L65.74 443.7 L69.4 444.77 L73.05 444.31 L76.71 443.6 L80.37 441.15 L84.02 438.55 L87.68 437.93 L91.33 436.57 L94.99 436.2 L98.64 431.87 L102.3 430.18 L105.95 429.6 L109.61 429.35 L113.26 427.9 L116.92 426.58 L120.57 425.15 L124.23 426.07 L127.89 426.87 L131.54 429.55 L135.2 432.72 L138.85 434.96 L142.51 437.24 L146.16 438.1 L149.82 440.37 L153.47 441.32 L157.13 441.01 L160.78 440.24 L164.44 442.92 L168.09 445.24 L171.75 448.3 L175.41 446.41 L179.06 446.01 L182.72 444.73 L186.37 441.47 L190.03 439.41 L193.68 437.21 L197.34 436.17 L200.99 435.16 L204.65 434.54 L208.3 434 L211.96 433.09 L215.62 432.76 L219.27 432.01 L222.93 429.41 L226.58 427.32 L230.24 426.08 L233.89 425.18 L237.55 424.26 L241.2 422.67 L244.86 420.82 L248.51 420.52 L252.17 421.09 L255.82 420.98 L259.48 421.28 L263.14 421.64 L266.79 422.6 L270.45 423.72 L274.1 424.2 L277.76 425 L281.41 422.73 L285.07 420.63 L288.72 417.26 L292.38 416.21 L296.03 412.89 L299.69 409.52 L303.34 408.03 L307 409.55 L310.66 410.78 L314.31 412.33 L317.97 412.36 L321.62 413.53 L325.28 415.05 L328.93 415.54 L332.59 415.61 L336.24 417.72 L339.9 418.9 L343.55 419.85 L347.21 421.12 L350.86 422.03 L354.52 423.44 L358.18 424.96 L361.83 427.75 L365.49 429.31 L369.14 430.32 L372.8 430.94 L376.45 430.45 L380.11 430.93 L383.76 432.89 L387.42 433.08 L391.07 432.86 L394.73 431.16 L398.38 429.21 L402.04 428.34 L405.7 427.81 L409.35 428.47 L413.01 429.6 L416.66 430.57 L420.32 430.77 L423.97 429.76 L427.63 430.25 L431.28 430.16 L434.94 430.4 L438.59 431.36 L442.25 432.7 L445.91 434.31 L449.56 433.17 L453.22 431.86 L456.87 430.9 L460.53 431.19 L464.18 430.71 L467.84 429.67 L471.49 428.39 L475.15 427.08 L478.8 427.14 L482.46 426.06 L486.11 424.84 L489.77 424.45 L493.43 424.24 L497.08 423.34 L500.74 422.77 L504.39 421.6 L508.05 419.16 L511.7 415.5 L515.36 409.98 L519.01 405.61 L522.67 401.09 L526.32 395.94 L529.98 393.02 L533.63 389.11 L537.29 379.95 L540.95 374.31 L544.6 370.06 L548.26 367.09 L551.91 363.99 L555.57 362.45 L559.22 367.3 L562.88 372.37 L566.53 376.8 L570.19 380.42 L573.84 382.71 L577.5 387.1 L581.16 390.53 L584.81 394.33 L588.47 398.77 L592.12 403.35 L595.78 410.15 L599.43 412.77 L603.09 413.09 L606.74 415.28 L610.4 416.47 L614.05 412.75 L617.71 410.76 L621.36 410.03 L625.02 410.35 L628.68 411.51 L632.33 410.46 L635.99 409.72 L639.64 412.36 L643.3 414.5 L646.95 415.9 L650.61 417.31 L654.26 419.06 L657.92 423.54 L661.57 425.41 L665.23 428.57 L668.88 427.46 L672.54 427.34 L676.2 427.45 L679.85 430.06 L683.51 429.56 L687.16 429.89 L690.82 430.21 L694.47 432.43 L698.13 434.09 L701.78 435.92 L705.44 437.57 L709.09 437.2 L712.75 437.06 L716.4 437.44 L720.06 437.17 L723.72 437.26 L727.37 435.82 L731.03 433.18 L734.68 431.64 L738.34 429.59 L741.99 427.18 L745.65 424.31 L749.3 421.8 L752.96 421.39 L756.61 421.75 L760.27 421.08 L763.93 420.05 L767.58 419.47 L771.24 420.3 L774.89 421.18 L778.55 422.1 L782.2 424.67 L785.86 427.18 L789.51 427.47 L793.17 430.49 L796.82 432.03 L800.48 432.69 L804.13 432.43 L807.79 431.81 L811.45 432 L815.1 430.42 L818.76 427.88 L822.41 425.64 L826.07 425.15 L829.72 424.63 L833.38 423.53 L837.03 425.18 L840.69 425.93 L844.34 427.61 L848 435.54 L851.65 441.22 L855.31 443.56 L858.97 444.08 L862.62 445.65 L866.28 448.18 L869.93 450.72 L873.59 453.12 L877.24 453.66 L880.9 453.32 L884.55 451.35 L888.21 450.7 L891.86 450.74 L895.52 449.84 L899.17 447.2 L902.83 443.58 L906.49 439.79 L910.14 437.06 L913.8 435.21 L917.45 434.42 L921.11 435.36 L924.76 434.87 L928.42 434.44 L932.07 433.5 L935.73 436.16 L939.38 439.41 L943.04 439.59 L946.7 441.98 L950.35 441.89 L954.01 442.18 L957.66 440.9 L961.32 437.28 L964.97 436.45 L968.63 435.74 L972.28 435.95 L975.94 437.21 L979.59 438.06 L983.25 439.03 L986.9 440.52 L990.56 440.51 L994.22 442 L997.87 444.74 L1001.53 447.34 L1005.18 448.85 L1008.84 448.49 L1012.49 447.86" stroke="#2196f3" stroke-width="1.8" fill="none" stroke-linejoin="round"/><path d="M14.57 431.25 L18.22 432.24 L21.88 433.93 L25.53 435.91 L29.19 438.13 L32.84 440.23 L36.5 439.88 L40.16 439.62 L43.81 439.19 L47.47 438.48 L51.12 437.31 L54.78 436.57 L58.43 436.28 L62.09 436.85 L65.74 438.22 L69.4 439.53 L73.05 440.49 L76.71 441.11 L80.37 441.12 L84.02 440.6 L87.68 440.07 L91.33 439.37 L94.99 438.73 L98.64 437.36 L102.3 435.93 L105.95 434.66 L109.61 433.6 L113.26 432.46 L116.92 431.28 L120.57 430.06 L124.23 429.26 L127.89 428.78 L131.54 428.94 L135.2 429.69 L138.85 430.75 L142.51 432.05 L146.16 433.26 L149.82 434.68 L153.47 436.01 L157.13 437.01 L160.78 437.66 L164.44 438.71 L168.09 440.01 L171.75 441.67 L175.41 442.62 L179.06 443.3 L182.72 443.58 L186.37 443.16 L190.03 442.41 L193.68 441.37 L197.34 440.33 L200.99 439.3 L204.65 438.34 L208.3 437.47 L211.96 436.6 L215.62 435.83 L219.27 435.07 L222.93 433.93 L226.58 432.61 L230.24 431.31 L233.89 430.08 L237.55 428.92 L241.2 427.67 L244.86 426.3 L248.51 425.14 L252.17 424.33 L255.82 423.66 L259.48 423.19 L263.14 422.88 L266.79 422.82 L270.45 423 L274.1 423.24 L277.76 423.59 L281.41 423.42 L285.07 422.86 L288.72 421.74 L292.38 420.64 L296.03 419.09 L299.69 417.17 L303.34 415.35 L307 414.19 L310.66 413.51 L314.31 413.27 L317.97 413.09 L321.62 413.18 L325.28 413.55 L328.93 413.95 L332.59 414.28 L336.24 414.97 L339.9 415.75 L343.55 416.57 L347.21 417.48 L350.86 418.39 L354.52 419.4 L358.18 420.51 L361.83 421.96 L365.49 423.43 L369.14 424.81 L372.8 426.03 L376.45 426.92 L380.11 427.72 L383.76 428.75 L387.42 429.62 L391.07 430.27 L394.73 430.44 L398.38 430.2 L402.04 429.83 L405.7 429.42 L409.35 429.23 L413.01 429.31 L416.66 429.56 L420.32 429.8 L423.97 429.79 L427.63 429.88 L431.28 429.94 L434.94 430.03 L438.59 430.3 L442.25 430.78 L445.91 431.48 L449.56 431.82 L453.22 431.83 L456.87 431.64 L460.53 431.55 L464.18 431.38 L467.84 431.04 L471.49 430.51 L475.15 429.82 L478.8 429.29 L482.46 428.64 L486.11 427.88 L489.77 427.19 L493.43 426.6 L497.08 425.95 L500.74 425.31 L504.39 424.57 L508.05 423.49 L511.7 421.89 L515.36 419.51 L519.01 416.73 L522.67 413.6 L526.32 410.07 L529.98 406.66 L533.63 403.15 L537.29 398.51 L540.95 393.67 L544.6 388.95 L548.26 384.58 L551.91 380.46 L555.57 376.86 L559.22 374.94 L562.88 374.43 L566.53 374.9 L570.19 376.01 L573.84 377.35 L577.5 379.3 L581.16 381.55 L584.81 384.1 L588.47 387.04 L592.12 390.3 L595.78 394.27 L599.43 397.97 L603.09 401 L606.74 403.85 L610.4 406.38 L614.05 407.65 L617.71 408.27 L621.36 408.62 L625.02 408.97 L628.68 409.48 L632.33 409.67 L635.99 409.68 L639.64 410.22 L643.3 411.07 L646.95 412.04 L650.61 413.09 L654.26 414.29 L657.92 416.14 L661.57 417.99 L665.23 420.11 L668.88 421.58 L672.54 422.73 L676.2 423.68 L679.85 424.95 L683.51 425.87 L687.16 426.68 L690.82 427.38 L694.47 428.39 L698.13 429.53 L701.78 430.81 L705.44 432.16 L709.09 433.17 L712.75 433.95 L716.4 434.65 L720.06 435.15 L723.72 435.57 L727.37 435.62 L731.03 435.13 L734.68 434.44 L738.34 433.47 L741.99 432.21 L745.65 430.63 L749.3 428.86 L752.96 427.37 L756.61 426.24 L760.27 425.21 L763.93 424.18 L767.58 423.24 L771.24 422.65 L774.89 422.36 L778.55 422.31 L782.2 422.78 L785.86 423.66 L789.51 424.42 L793.17 425.63 L796.82 426.91 L800.48 428.07 L804.13 428.94 L807.79 429.51 L811.45 430.01 L815.1 430.09 L818.76 429.65 L822.41 428.85 L826.07 428.11 L829.72 427.41 L833.38 426.64 L837.03 426.35 L840.69 426.26 L844.34 426.53 L848 428.33 L851.65 430.91 L855.31 433.44 L858.97 435.57 L862.62 437.58 L866.28 439.7 L869.93 441.91 L873.59 444.15 L877.24 446.05 L880.9 447.51 L884.55 448.27 L888.21 448.76 L891.86 449.16 L895.52 449.29 L899.17 448.87 L902.83 447.81 L906.49 446.21 L910.14 444.38 L913.8 442.55 L917.45 440.92 L921.11 439.81 L924.76 438.82 L928.42 437.95 L932.07 437.06 L935.73 436.88 L939.38 437.38 L943.04 437.83 L946.7 438.66 L950.35 439.3 L954.01 439.88 L957.66 440.08 L961.32 439.52 L964.97 438.91 L968.63 438.27 L972.28 437.81 L975.94 437.69 L979.59 437.76 L983.25 438.02 L986.9 438.52 L990.56 438.92 L994.22 439.53 L997.87 440.57 L1001.53 441.93 L1005.18 443.31 L1008.84 444.35 L1012.49 445.05" stroke="#ff6d00" stroke-width="1.8" fill="none" stroke-linejoin="round"/></g>
<!-- separators -->
<g fill="none">
<path d="M16 273.5H1244M16 351.5H1244M16 464.5H1244" stroke="#d1d4dc" stroke-width="1"/>
<path d="M1152.5 16V505" stroke="#9598a1" stroke-width="1"/>
</g>
<text x="1163.68" y="64.80" fill="#b2b5be" stroke="#b2b5be" stroke-width="0.45" style="font-size:17.8px" textLength="35.53" lengthAdjust="spacingAndGlyphs">3.50</text>
<text x="1163.68" y="112.80" fill="#b2b5be" stroke="#b2b5be" stroke-width="0.45" style="font-size:17.8px" textLength="35.53" lengthAdjust="spacingAndGlyphs">3.00</text>
<text x="1162.95" y="256.80" fill="#b2b5be" stroke="#b2b5be" stroke-width="0.45" style="font-size:17.8px" textLength="36.08" lengthAdjust="spacingAndGlyphs">1.50</text>
<text x="1163.91" y="326.80" fill="#b2b5be" stroke="#b2b5be" stroke-width="0.45" style="font-size:17.8px" textLength="44.19" lengthAdjust="spacingAndGlyphs">50.00</text>
<!-- price labels -->
<path d="M1152 124.8H1234.2a2 2 0 0 1 2 2V151.1H1152Z" fill="#2962ff"/>
<path d="M1152 151.1H1236.2V175.9a2 2 0 0 1 -2 2H1152Z" fill="#ff9800"/>
<path d="M1152 182.8H1235.9a2 2 0 0 1 2 2V228.8a2 2 0 0 1 -2 2H1152Z" fill="#089981"/>
<path d="M1152 318H1214.7a2 2 0 0 1 2 2V342.5a2 2 0 0 1 -2 2H1152Z" fill="#7e57c2"/>
<path d="M1152 414.8H1231.3a2 2 0 0 1 2 2V441.1H1152Z" fill="#ffcdd2"/>
<path d="M1152 441.1H1233.3V464H1152Z" fill="#ff6d00"/>
<text x="26.92" y="43.90" fill="#b2b5be" stroke="#b2b5be" stroke-width="0.45" style="font-size:17.8px" textLength="255.74" lengthAdjust="spacingAndGlyphs">XRP/USD - PAN, 1D, DEXTools.io</text>
<text x="292.94" y="43.90" fill="#b2b5be" stroke="#b2b5be" stroke-width="0.45" style="font-size:17.8px" textLength="13.16" lengthAdjust="spacingAndGlyphs">O</text>
<text x="305.40" y="43.90" fill="#089981" stroke="#089981" stroke-width="0.45" style="font-size:17.8px" textLength="64.09" lengthAdjust="spacingAndGlyphs">2.04694</text>
<text x="379.36" y="43.90" fill="#b2b5be" stroke="#b2b5be" stroke-width="0.45" style="font-size:17.8px" textLength="13.24" lengthAdjust="spacingAndGlyphs">H</text>
<text x="391.42" y="43.90" fill="#089981" stroke="#089981" stroke-width="0.45" style="font-size:17.8px" textLength="63.07" lengthAdjust="spacingAndGlyphs">2.10689</text>
<text x="465.23" y="43.90" fill="#b2b5be" stroke="#b2b5be" stroke-width="0.45" style="font-size:17.8px" textLength="10.39" lengthAdjust="spacingAndGlyphs">L</text>
<text x="475.12" y="43.90" fill="#089981" stroke="#089981" stroke-width="0.45" style="font-size:17.8px" textLength="62.86" lengthAdjust="spacingAndGlyphs">2.02899</text>
<text x="548.30" y="43.90" fill="#b2b5be" stroke="#b2b5be" stroke-width="0.45" style="font-size:17.8px" textLength="11.49" lengthAdjust="spacingAndGlyphs">C</text>
<text x="559.11" y="43.90" fill="#089981" stroke="#089981" stroke-width="0.45" style="font-size:17.8px" textLength="63.48" lengthAdjust="spacingAndGlyphs">2.05993</text>
<text x="634.01" y="43.90" fill="#089981" stroke="#089981" stroke-width="0.45" style="font-size:17.8px" textLength="62.97" lengthAdjust="spacingAndGlyphs">0.01299</text>
<text x="702.87" y="43.90" fill="#089981" stroke="#089981" stroke-width="0.45" style="font-size:17.8px" textLength="68.20" lengthAdjust="spacingAndGlyphs">(+0.63%)</text>
<text x="25.27" y="70.00" fill="#b2b5be" stroke="#b2b5be" stroke-width="0.45" style="font-size:17.8px" textLength="137.68" lengthAdjust="spacingAndGlyphs">MA (50, close, 0)</text>
<text x="173.12" y="70.00" fill="#ff9800" stroke="#ff9800" stroke-width="0.45" style="font-size:17.8px" textLength="62.56" lengthAdjust="spacingAndGlyphs">2.39571</text>
<text x="25.27" y="95.70" fill="#b2b5be" stroke="#b2b5be" stroke-width="0.45" style="font-size:17.8px" textLength="147.17" lengthAdjust="spacingAndGlyphs">MA (200, close, 0)</text>
<text x="182.61" y="95.70" fill="#2962ff" stroke="#2962ff" stroke-width="0.45" style="font-size:17.8px" textLength="63.17" lengthAdjust="spacingAndGlyphs">2.62635</text>
<text x="26.48" y="302.80" fill="#b2b5be" stroke="#b2b5be" stroke-width="0.45" style="font-size:17.8px" textLength="62.28" lengthAdjust="spacingAndGlyphs">RSI (14)</text>
<text x="100.01" y="302.80" fill="#7e57c2" stroke="#7e57c2" stroke-width="0.45" style="font-size:17.8px" textLength="44.09" lengthAdjust="spacingAndGlyphs">39.39</text>
<text x="25.91" y="380.70" fill="#b2b5be" stroke="#b2b5be" stroke-width="0.45" style="font-size:17.8px" textLength="189.12" lengthAdjust="spacingAndGlyphs">MACD (12, 26, close, 9)</text>
<text x="226.00" y="380.70" fill="#ffcdd2" stroke="#ffcdd2" stroke-width="0.45" style="font-size:17.8px" textLength="60.40" lengthAdjust="spacingAndGlyphs">-0.0153</text>
<text x="297.61" y="380.70" fill="#2196f3" stroke="#2196f3" stroke-width="0.45" style="font-size:17.8px" textLength="59.79" lengthAdjust="spacingAndGlyphs">-0.1208</text>
<text x="368.60" y="380.70" fill="#ff6d00" stroke="#ff6d00" stroke-width="0.45" style="font-size:17.8px" textLength="60.20" lengthAdjust="spacingAndGlyphs">-0.1054</text>
<text x="1163.30" y="145.10" fill="#ffffff" stroke="#ffffff" stroke-width="0.7" style="font-size:17.8px" textLength="64.30" lengthAdjust="spacingAndGlyphs">2.62635</text>
<text x="1163.53" y="171.20" fill="#000000" stroke="#000000" stroke-width="0.7" style="font-size:17.8px" textLength="61.94" lengthAdjust="spacingAndGlyphs">2.39571</text>
<text x="1163.30" y="203.10" fill="#ffffff" stroke="#ffffff" stroke-width="0.7" style="font-size:17.8px" textLength="64.30" lengthAdjust="spacingAndGlyphs">2.05993</text>
<text x="1163.36" y="224.30" fill="#ffffff" stroke="#ffffff" stroke-width="0.7" style="font-size:17.8px" textLength="65.52" lengthAdjust="spacingAndGlyphs">−19.96%</text>
<text x="1164.00" y="337.80" fill="#ffffff" stroke="#ffffff" stroke-width="0.7" style="font-size:17.8px" textLength="44.29" lengthAdjust="spacingAndGlyphs">39.39</text>
<text x="1163.91" y="434.70" fill="#000000" stroke="#000000" stroke-width="0.7" style="font-size:17.8px" textLength="59.89" lengthAdjust="spacingAndGlyphs">-0.0153</text>
<text x="1163.89" y="461.20" fill="#ffffff" stroke="#ffffff" stroke-width="0.7" style="font-size:17.8px" textLength="61.01" lengthAdjust="spacingAndGlyphs">-0.1054</text>
<text x="16.57" y="492.00" fill="#b2b5be" stroke="#b2b5be" stroke-width="0.45" style="font-size:17.8px" textLength="31.26" lengthAdjust="spacingAndGlyphs">Mar</text>
<text x="238.65" y="492.00" fill="#b2b5be" stroke="#b2b5be" stroke-width="0.45" style="font-size:17.8px" textLength="32.35" lengthAdjust="spacingAndGlyphs">May</text>
<text x="466.79" y="492.00" fill="#b2b5be" stroke="#b2b5be" stroke-width="0.45" style="font-size:17.8px" textLength="24.46" lengthAdjust="spacingAndGlyphs">Jul</text>
<text x="690.26" y="492.00" fill="#b2b5be" stroke="#b2b5be" stroke-width="0.45" style="font-size:17.8px" textLength="29.39" lengthAdjust="spacingAndGlyphs">Sep</text>
<text x="911.93" y="492.00" fill="#b2b5be" stroke="#b2b5be" stroke-width="0.45" style="font-size:17.8px" textLength="31.07" lengthAdjust="spacingAndGlyphs">Nov</text>
<text x="48.99" y="539.40" fill="#d1d4dc" stroke="#d1d4dc" stroke-width="0.8" style="font-size:19px" textLength="106.33" lengthAdjust="spacingAndGlyphs">TradingView</text>
<svg x="1100" y="465" width="52" height="40" overflow="hidden"><text x="30.5" y="27.3" fill="#b2b5be" style="font-size:17.8px;font-weight:bold" textLength="42.4" lengthAdjust="spacingAndGlyphs">2026</text></svg>
<!-- logo -->
<g fill="#d1d4dc">
<path d="M14.8 524.1H27.1V539.1H20.8V529.2H14.8Z"/>
<circle cx="31.6" cy="527.1" r="2.9"/>
<path d="M37.7 524.1H44.3L38.3 539.1H31.6Z"/>
</g>
</svg>
</body></html>
